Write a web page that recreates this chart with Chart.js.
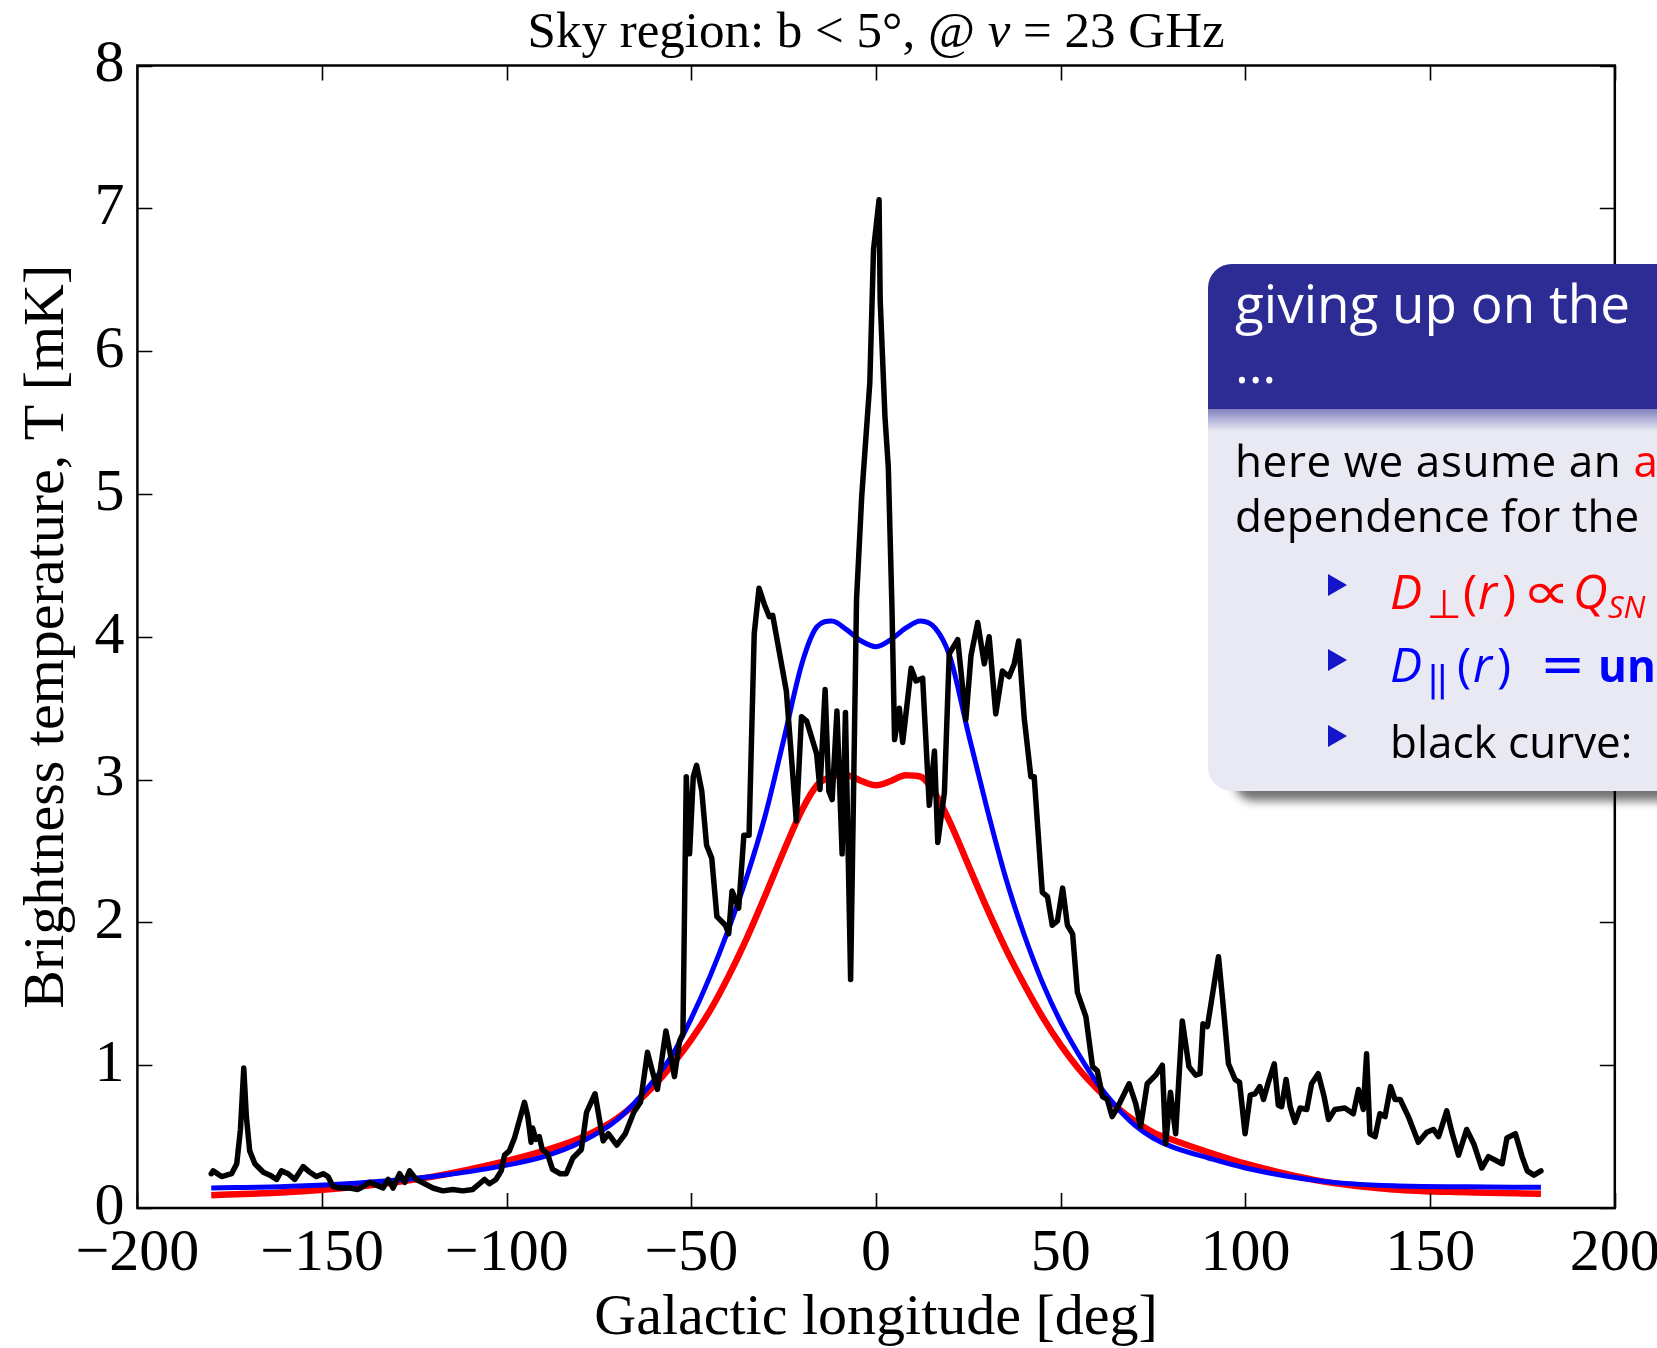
<!DOCTYPE html>
<html lang="en">
<head>
  <meta charset="UTF-8" />
  <title>Sky region: b &lt; 5°, @ ν = 23 GHz</title>
  <script src="https://cdn.jsdelivr.net/npm/chart.js"></script>
  <style>
    html, body { margin: 0; padding: 0; background: #fff; overflow: hidden; }
    #wrap { position: relative; width: 1657px; height: 1348px; overflow: hidden; }
    #chart { position: absolute; left: 0; top: 0; }

    .block { position: absolute; left: 1208px; top: 264px; width: 620px; height: 527px;
             border-radius: 24px; background: #e9e9f4; overflow: hidden;
             box-shadow: 22px 14px 10px -4px rgba(0,0,0,0.55);
             font-family: "Open Sans", sans-serif; color: #000; }
    .block .head { position: absolute; left: 0; right: 0; top: 0; height: 145px; background: #2c2c94; }
    .block .fade { position: absolute; left: 0; right: 0; top: 145px; height: 22px;
                   background: linear-gradient(to bottom, rgba(44,44,148,0.55), rgba(233,233,244,0)); }
    .ln { position: absolute; left: 27px; white-space: nowrap; line-height: 1; }
    .h { font-size: 53px; color: #fff; }
    .b { font-size: 44px; }
    .b.wide { letter-spacing: 0.6px; }
    .item { left: 182px; }
    .red { color: #ff0000; }
    .blue { color: #0000ff; }
    .g { display: inline-block; line-height: 0; font-size: 48px; }
    .sym { font-family: "DejaVu Sans", sans-serif; }
    .sub { vertical-align: -9px; }
    .s40 { font-size: 40px; }
    .s31 { font-size: 31px; }
    .bars { font-size: 36px; letter-spacing: -3px; }
    .prop { font-size: 52px; transform: scaleX(1.3); transform-origin: 0 0; }
    .bold { font-weight: 700; }
    .tri { position: absolute; left: 120px; width: 0; height: 0;
           border-left: 19px solid #1414c8; border-top: 11.5px solid transparent; border-bottom: 11.5px solid transparent; }
  </style>
</head>
<body>
  <div id="wrap">
    <canvas id="chart" width="1657" height="1348"></canvas>

    <div class="block">
      <div class="head"></div>
      <div class="fade"></div>
      <div class="ln h" style="top:12px">giving up on the</div>
      <div class="ln h" style="top:72px">…</div>
      <div class="ln b wide" style="top:174px">here we asume an <span class="red">a</span></div>
      <div class="ln b" style="top:229px">dependence for the</div>

      <div class="tri" style="top:310px"></div>
      <div class="ln b item red" style="top:306px"><i class="g" style="width:37px">D</i><span class="g sym sub s40" style="width:36px">⊥</span><span class="g" style="width:15px">(</span><i class="g" style="width:24px">r</i><span class="g" style="width:20px">)</span><span class="g sym prop" style="width:51px">∝</span><i class="g" style="width:35px">Q</i><i class="g sub s31">SN</i></div>

      <div class="tri" style="top:385px"></div>
      <div class="ln b item blue" style="top:379px"><i class="g" style="width:37px">D</i><span class="g sym sub bars" style="width:30px">||</span><span class="g" style="width:16px">(</span><i class="g" style="width:24px">r</i><span class="g" style="width:43px">)</span><span class="g sym" style="width:58px; font-size:54px">=</span><span class="bold">uni</span></div>

      <div class="tri" style="top:461px"></div>
      <div class="ln b item" style="top:455px">black curve:</div>
    </div>
  </div>

  <script>
    // smooth model curves (longitude in deg, T in mK)
    const modelLon = [-180, -160, -140, -120, -100, -90, -80, -70, -60, -55, -50, -45, -40, -35, -30, -25, -20, -16, -12, -8, -4,
                      0, 4, 8, 12, 16, 20, 25, 30, 35, 40, 45, 50, 55, 60, 65, 70, 75, 80, 90, 100, 120, 140, 160, 180];
    const blueModel = [0.14, 0.15, 0.175, 0.22, 0.30, 0.36, 0.46, 0.62, 0.90, 1.08, 1.33, 1.62, 1.95, 2.32, 2.75, 3.28, 3.82, 4.07, 4.11, 4.05, 3.97,
                       3.93, 3.98, 4.06, 4.11, 4.06, 3.86, 3.32, 2.80, 2.32, 1.92, 1.58, 1.30, 1.07, 0.87, 0.71, 0.58, 0.49, 0.43, 0.35, 0.28, 0.19, 0.155, 0.148, 0.145];
    const redModel = [0.09, 0.11, 0.15, 0.22, 0.33, 0.40, 0.49, 0.63, 0.86, 1.01, 1.18, 1.38, 1.62, 1.89, 2.19, 2.50, 2.79, 2.96, 3.02, 3.03, 2.99,
                      2.96, 2.99, 3.03, 3.02, 2.90, 2.70, 2.40, 2.10, 1.82, 1.57, 1.34, 1.14, 0.97, 0.83, 0.71, 0.61, 0.53, 0.48, 0.39, 0.31, 0.19, 0.13, 0.11, 0.10];

    // observed profile
    const blackLon = [
      -180, -179.5, -177.2, -174.5, -173.1, -172.1, -171.2, -170.5, -169.6, -168.2,
      -165.9, -164.1, -162.3, -161, -159.2, -157.4, -155.1, -153.3, -151.5, -149.7,
      -148.4, -147, -145.2, -142.5, -140.3, -138.9, -137.1, -135.3, -133.5, -132.1,
      -130.8, -129, -127.6, -126.3, -124.5, -122.2, -120, -117.3, -114.6, -111.9,
      -109.2, -107.4, -106, -104.7, -102.9, -101.5, -100.6, -99.3, -97.9, -96.5,
      -95.2, -94.3, -93.4, -93, -92.1, -91.2, -90.4, -89, -87.6, -85.5,
      -83.9, -82.1, -79.8, -78.4, -76.1, -73.9, -72.5, -70.2, -67.9, -65.6,
      -63.8, -61.9, -60.6, -59.2, -56.9, -55.5, -54.6, -53.2, -52.3, -51.4,
      -50.5, -49.5, -48.6, -47.2, -45.9, -44.5, -43.1, -40.8, -39.9, -39,
      -37.2, -35.8, -34.4, -33, -31.7, -30.3, -28.9, -28, -24.3, -21.6,
      -20.2, -18.8, -16.1, -15.2, -13.8, -12.8, -11.9, -10.6, -9.2, -8.3,
      -6.9, -6, -5.3, -3.9, -1.7, -0.7, 0.8, 1.1, 2.4, 3.3,
      4.3, 5, 6.3, 7.2, 9.5, 10.8, 12.6, 14.4, 15.8, 16.7,
      18.5, 19.8, 22.1, 24.3, 25.7, 27.5, 29.3, 30.6, 32.4, 34.2,
      36, 37.4, 38.6, 40.1, 41.9, 42.8, 45, 46.4, 47.7, 49.1,
      50.5, 51.8, 53.2, 54.5, 56.8, 58.6, 59.9, 61.3, 62.6, 63.9,
      65.3, 68.5, 70.3, 71.6, 73.4, 75.7, 77.5, 78.4, 79.7, 81.1,
      82.9, 84.7, 86.5, 87.7, 88.5, 89.7, 92.7, 94, 95.4, 97.2,
      98.4, 99.9, 101.3, 102.6, 103.9, 104.9, 106.2, 107.8, 108.9, 109.8,
      111, 112.1, 113.4, 114.8, 116.6, 117.9, 119.7, 121.3, 122.5, 124.2,
      126.9, 129.2, 130.6, 131.9, 132.8, 133.7, 135.1, 136.4, 137.8, 139.3,
      140.5, 141.9, 144.1, 146.8, 149.1, 150.9, 152.3, 154.5, 155.9, 157.7,
      159.9, 161.8, 164, 165.8, 169.5, 170.8, 173.1, 174.9, 176.3, 178.1,
      180
    ];
    const blackTemp = [
      0.24, 0.26, 0.22, 0.24, 0.31, 0.55, 0.98, 0.64, 0.40, 0.31,
      0.25, 0.23, 0.20, 0.26, 0.24, 0.20, 0.29, 0.25, 0.22, 0.24,
      0.22, 0.15, 0.14, 0.14, 0.13, 0.15, 0.18, 0.16, 0.14, 0.20,
      0.14, 0.24, 0.18, 0.26, 0.20, 0.17, 0.14, 0.12, 0.13, 0.12,
      0.13, 0.17, 0.20, 0.17, 0.20, 0.26, 0.37, 0.40, 0.49, 0.62,
      0.74, 0.64, 0.46, 0.56, 0.48, 0.50, 0.41, 0.38, 0.27, 0.24,
      0.24, 0.35, 0.41, 0.67, 0.80, 0.47, 0.52, 0.44, 0.52, 0.67,
      0.74, 1.09, 0.96, 0.83, 1.24, 1.05, 0.92, 1.17, 1.22, 3.02,
      2.48, 3.02, 3.10, 2.92, 2.54, 2.45, 2.04, 1.98, 1.92, 2.22,
      2.10, 2.61, 2.61, 4.02, 4.34, 4.23, 4.14, 4.15, 3.62, 2.71,
      3.44, 3.41, 3.18, 2.93, 3.63, 2.92, 2.86, 3.48, 2.48, 3.47,
      1.60, 3.09, 4.26, 4.98, 5.78, 6.71, 7.06, 6.36, 5.54, 5.19,
      4.20, 3.28, 3.50, 3.26, 3.78, 3.69, 3.71, 2.82, 3.20, 2.56,
      2.91, 3.88, 3.98, 3.42, 3.87, 4.10, 3.81, 4.00, 3.46, 3.76,
      3.72, 3.81, 3.97, 3.43, 3.02, 3.02, 2.21, 2.18, 1.98, 2.01,
      2.24, 1.98, 1.92, 1.51, 1.34, 0.99, 0.96, 0.78, 0.76, 0.64,
      0.70, 0.87, 0.73, 0.57, 0.87, 0.93, 1.00, 0.45, 0.81, 0.52,
      1.31, 0.99, 0.93, 0.94, 1.29, 1.27, 1.76, 1.41, 1.01, 0.90,
      0.88, 0.52, 0.79, 0.80, 0.85, 0.76, 0.88, 1.01, 0.72, 0.71,
      0.90, 0.71, 0.60, 0.70, 0.69, 0.87, 0.94, 0.78, 0.62, 0.69,
      0.70, 0.66, 0.83, 0.69, 1.08, 0.52, 0.50, 0.66, 0.64, 0.85,
      0.76, 0.76, 0.64, 0.46, 0.53, 0.55, 0.50, 0.68, 0.53, 0.37,
      0.55, 0.45, 0.28, 0.36, 0.31, 0.49, 0.52, 0.36, 0.26, 0.23,
      0.26
    ];

    const titleParts = ['Sky region: b < 5°, @ ', 'ν', ' = 23 GHz'];
    const serif = '"Liberation Serif", "DejaVu Serif", serif';

    function toPoints(xs, ys) {
      return xs.map((x, i) => ({ x: x, y: ys[i] }));
    }

    function fmtTick(v) {
      return v < 0 ? '\u2212' + Math.abs(v) : String(v);
    }

    // inward ticks on all four sides, frame and title
    const framePlugin = {
      id: 'frame',
      afterDatasetsDraw(chart) {
        const { ctx, chartArea: a, scales: { x, y } } = chart;
        const len = 15;
        ctx.save();
        ctx.strokeStyle = '#000';
        ctx.lineWidth = 1.6;
        ctx.beginPath();
        x.ticks.forEach(t => {
          const px = Math.round(x.getPixelForValue(t.value)) + 0.5;
          ctx.moveTo(px, a.bottom); ctx.lineTo(px, a.bottom - len);
          ctx.moveTo(px, a.top); ctx.lineTo(px, a.top + len);
        });
        y.ticks.forEach(t => {
          const py = Math.round(y.getPixelForValue(t.value)) + 0.5;
          ctx.moveTo(a.left, py); ctx.lineTo(a.left + len, py);
          ctx.moveTo(a.right, py); ctx.lineTo(a.right - len, py);
        });
        ctx.stroke();
        ctx.lineWidth = 2.5;
        ctx.strokeRect(a.left, a.top, a.right - a.left, a.bottom - a.top);

        // title
        ctx.fillStyle = '#000';
        ctx.textBaseline = 'alphabetic';
        ctx.textAlign = 'left';
        const fonts = ['51px ' + serif, 'italic 51px ' + serif, '51px ' + serif];
        let total = 0;
        const widths = titleParts.map((s, i) => { ctx.font = fonts[i]; const w = ctx.measureText(s).width; total += w; return w; });
        let cx = (a.left + a.right) / 2 - total / 2;
        titleParts.forEach((s, i) => { ctx.font = fonts[i]; ctx.fillText(s, cx, 47); cx += widths[i]; });
        ctx.restore();
      }
    };

    new Chart(document.getElementById('chart'), {
      type: 'line',
      data: {
        datasets: [
          { label: 'data', data: toPoints(blackLon, blackTemp), borderColor: '#000', borderWidth: 5.5,
            pointRadius: 0, tension: 0, borderJoinStyle: 'round', borderCapStyle: 'round' },
          { label: 'D_par uniform', data: toPoints(modelLon, blueModel), borderColor: '#0000ff', borderWidth: 5,
            pointRadius: 0, cubicInterpolationMode: 'monotone' },
          { label: 'D_perp ~ Q_SN', data: toPoints(modelLon, redModel), borderColor: '#ff0000', borderWidth: 6.5,
            pointRadius: 0, cubicInterpolationMode: 'monotone' }
        ]
      },
      options: {
        responsive: false,
        animation: false,
        devicePixelRatio: 1,
        layout: { padding: { top: 65.5, right: 42.2, bottom: 0, left: 0 } },
        plugins: { legend: { display: false }, tooltip: { enabled: false } },
        scales: {
          x: {
            type: 'linear', min: -200, max: 200,
            grid: { display: false, drawTicks: false, tickLength: 0 },
            border: { display: false },
            ticks: { stepSize: 50, color: '#000', padding: 16, maxRotation: 0,
                     font: { family: serif, size: 60, lineHeight: 1 }, callback: fmtTick },
            title: { display: true, text: 'Galactic longitude [deg]', color: '#000',
                     font: { family: serif, size: 58, lineHeight: 1 }, padding: { top: 0, bottom: 0 } },
            afterFit(s) { s.height = 140; s.paddingLeft = 0; s.paddingRight = 0; }
          },
          y: {
            min: 0, max: 8,
            grid: { display: false, drawTicks: false, tickLength: 0 },
            border: { display: false },
            ticks: { stepSize: 1, color: '#000', padding: 13,
                     font: { family: serif, size: 60, lineHeight: 1 } },
            title: { display: true, text: 'Brightness temperature, T [mK]', color: '#000',
                     font: { family: serif, size: 58, lineHeight: 1 }, padding: { top: 18.6, bottom: 0 } },
            afterFit(s) { s.width = 137.4; s.paddingTop = 0; s.paddingBottom = 0; }
          }
        }
      },
      plugins: [framePlugin]
    });
  </script>
</body>
</html>
